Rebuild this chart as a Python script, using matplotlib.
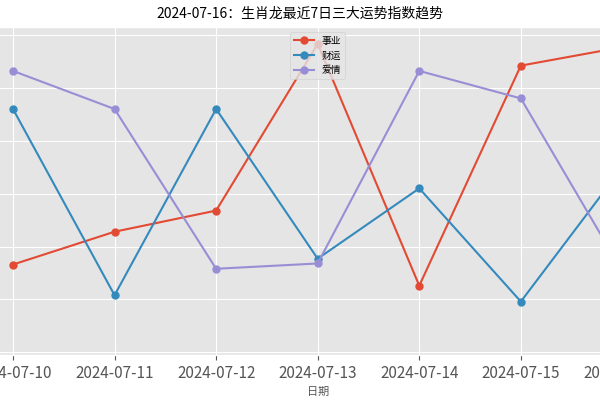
import matplotlib
matplotlib.use("Agg")
import matplotlib.pyplot as plt

plt.style.use("ggplot")
plt.rcParams["font.family"] = ["Noto Sans CJK SC", "DejaVu Sans"]

dates = ["2024-07-10", "2024-07-11", "2024-07-12", "2024-07-13",
         "2024-07-14", "2024-07-15", "2024-07-16"]
career = [56.6, 62.8, 66.8, 98.3, 52.6, 94.2, 97.7]
wealth = [86, 50.8, 86, 57.7, 71, 49.6, 75]
love = [93.2, 86, 55.8, 56.8, 93.2, 88, 55.3]

fig = plt.figure(figsize=(6, 4), dpi=100)
ax = fig.add_axes([-0.063, 0.1125, 1.185, 0.82])
x = range(len(dates))
ax.plot(x, career, marker="o", markersize=5, label="事业")
ax.plot(x, wealth, marker="o", markersize=5, label="财运")
ax.plot(x, love, marker="o", markersize=5, label="爱情")
ax.set_xticks(list(x))
ax.set_xticklabels(dates, fontsize=11)
ax.set_xlim(-0.5, 6.5)
ax.set_ylim(39.5, 101.5)
ax.set_yticks([40, 50, 60, 70, 80, 90, 100])
ax.set_yticklabels([])
ax.set_xlabel("日期", fontsize=8)
ax.legend(loc="upper center", bbox_to_anchor=(0.5, 1.0), fontsize=7)
fig.text(0.5, 0.965, "2024-07-16：生肖龙最近7日三大运势指数趋势",
         ha="center", va="center", fontsize=10)
fig.savefig("out.png", dpi=100)
